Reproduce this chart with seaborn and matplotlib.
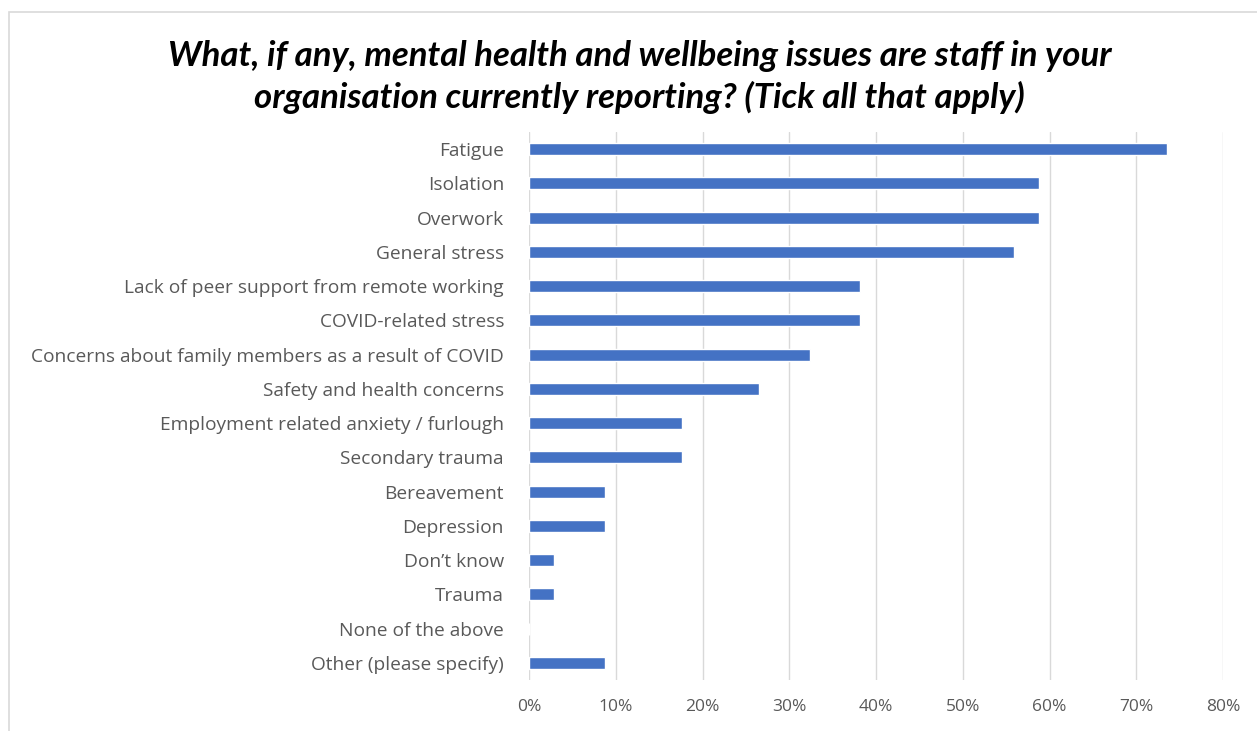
import matplotlib
matplotlib.use("Agg")
import matplotlib.pyplot as plt
import matplotlib.patches as mpatches
from matplotlib.ticker import PercentFormatter
import seaborn as sns
import pandas as pd

categories = [
    "Fatigue",
    "Isolation",
    "Overwork",
    "General stress",
    "Lack of peer support from remote working",
    "COVID-related stress",
    "Concerns about family members as a result of COVID",
    "Safety and health concerns",
    "Employment related anxiety / furlough",
    "Secondary trauma",
    "Bereavement",
    "Depression",
    "Don\u2019t know",
    "Trauma",
    "None of the above",
    "Other (please specify)",
]
shares = [73.5, 58.8, 58.8, 55.9, 38.2, 38.2, 32.4, 26.5,
          17.6, 17.6, 8.8, 8.8, 2.9, 2.9, 0.0, 8.8]
x_ticks = [0, 10, 20, 30, 40, 50, 60, 70, 80]

title = ("What, if any, mental health and wellbeing issues are staff in your\n"
         "organisation currently reporting? (Tick all that apply)")

df = pd.DataFrame({"issue": categories, "share": shares})

sns.set_theme(style="white")
plt.rcParams["font.family"] = ["Open Sans", "DejaVu Sans"]

fig = plt.figure(figsize=(12.57, 7.31), dpi=100)
ax = fig.add_axes([529 / 1257, 1 - 680 / 731, (1223 - 529) / 1257, (680 - 132) / 731])

sns.barplot(data=df, x="share", y="issue", color="#4472C4", width=0.35,
            saturation=1, ax=ax, zorder=3)

ax.set_xlim(0, 80)
ax.set_xticks(x_ticks)
ax.xaxis.set_major_formatter(PercentFormatter(decimals=0))
ax.grid(axis="x", color="#D9D9D9", linewidth=1, zorder=0)
ax.set_xlabel("")
ax.set_ylabel("")
for s in ax.spines.values():
    s.set_visible(False)
ax.tick_params(axis="both", length=0, labelcolor="#595959")
ax.tick_params(axis="x", pad=14, labelsize=12.5)
ax.tick_params(axis="y", pad=18, labelsize=13.8)

fig.text(0.509, 1 - 77 / 731, title, ha="center", va="center",
         fontsize=25, fontweight="bold", fontstyle="italic", color="#000000",
         family=["Lato", "DejaVu Sans"], linespacing=1.3)

# light outer frame of the chart area
fig.patches.append(mpatches.Rectangle((9 / 1257, -0.05), 1.2, 1 - 12 / 731 + 0.05,
                                      transform=fig.transFigure, fill=False,
                                      edgecolor="#D9D9D9", linewidth=1.2))

fig.savefig("out.png", dpi=100, facecolor="white")
